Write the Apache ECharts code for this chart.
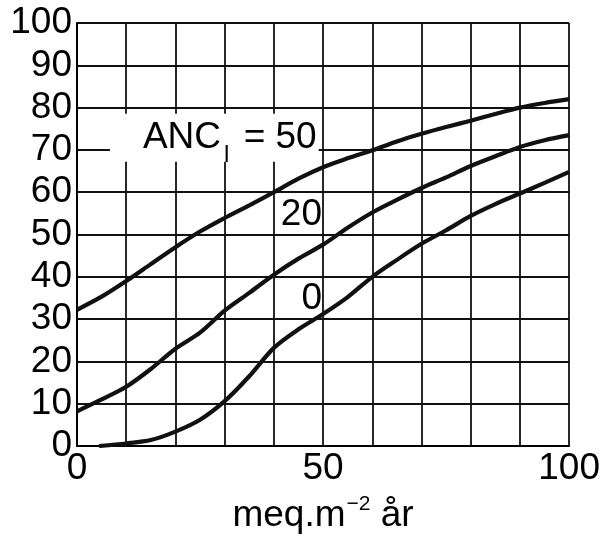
<!DOCTYPE html>
<html>
<head>
<meta charset="utf-8">
<script src="https://cdn.jsdelivr.net/npm/echarts@6/dist/echarts.min.js"></script>
<style>
html,body{margin:0;padding:0;background:#fff;}
#chart{width:603px;height:539px;}
</style>
</head>
<body>
<div id="chart"></div>
<script>
// ---- data ----
const xs = [0,5,10,15,20,25,30,35,40,45,50,55,60,65,70,75,80,85,90,95,100];
const anc50 = [32.2,35.3,39,43,47,50.7,53.9,56.9,60,63.2,65.9,68,69.9,72,73.8,75.4,76.9,78.5,80,81.1,82];
const anc20 = [8.2,11,14,18.2,23,26.8,32,36.2,40.5,44.3,47.6,51.6,55.2,58.2,61,63.5,66.2,68.5,70.7,72.3,73.5];
const anc0x = [4.5,10,15,20,25,30,35,40,45,50,55,60,65,70,75,80,85,90,95,100];
const anc0  = [0,0.6,1.4,3.4,6.2,10.6,16.5,23.2,27.6,31.2,35.2,40,44,47.8,51,54.4,57.2,59.7,62.2,64.8];
const xTickLabels = [0,50,100];
const yTickLabels = [0,10,20,30,40,50,60,70,80,90,100];
const curveNames = ['ANC 50','ANC 20','ANC 0'];

const FONT = 'Liberation Sans, Arial, Helvetica, sans-serif';
const pairs = (x, y) => x.map((v, i) => [v, y[i]]);

const lineStyle = {color:'#111', width:4.2};
function mkSeries(name, data, mp) {
  return {
    name, type:'line', data, smooth:0.3, symbol:'none', silent:true,
    lineStyle, z:3,
    markPoint: mp ? {
      silent:true, symbol:'rect', symbolSize:1,
      itemStyle:{color:'rgba(0,0,0,0)'},
      data:[mp]
    } : undefined
  };
}

const chart = echarts.init(document.getElementById('chart'), null, {renderer:'canvas'});
chart.setOption({
  animation:false,
  backgroundColor:'#fff',
  grid:{left:77, right:33.5, top:23, bottom:87, containLabel:false},
  xAxis:{
    type:'value', min:0, max:100, interval:10,
    axisLine:{show:true, lineStyle:{color:'#000', width:2}},
    axisTick:{show:false},
    splitLine:{show:true, lineStyle:{color:'#111', width:1.8}},
    axisLabel:{
      formatter:v => xTickLabels.includes(v) ? String(v) : '',
      fontSize:37, color:'#000', margin:4, fontFamily:FONT
    },
    name:'{a|meq.m}{s|\u22122}{a| år}',
    nameLocation:'middle', nameGap:48,
    nameTextStyle:{
      color:'#000', fontFamily:FONT,
      rich:{
        a:{fontSize:37, lineHeight:40, verticalAlign:'bottom', color:'#000', fontFamily:FONT},
        s:{fontSize:21, lineHeight:30, verticalAlign:'top', color:'#000', fontFamily:FONT, padding:[0,0,0,1]}
      }
    }
  },
  yAxis:{
    type:'value', min:0, max:100, interval:10,
    axisLine:{show:true, lineStyle:{color:'#000', width:2}},
    axisTick:{show:false},
    splitLine:{show:true, lineStyle:{color:'#111', width:1.8}},
    axisLabel:{
      formatter:v => yTickLabels.includes(v) ? String(v) : '',
      fontSize:37, color:'#000', margin:5, fontFamily:FONT
    }
  },
  series:[
    mkSeries(curveNames[0], pairs(xs, anc50), {
      coord:[27.9,72.9], value:'',
      label:{show:true, position:'inside',
        formatter:'{a|ANC}{s|l}{a| = 50}',
        backgroundColor:'#fff', padding:[6,2,2,33],
        rich:{
          a:{fontSize:37, lineHeight:40, verticalAlign:'top', color:'#000', fontFamily:FONT},
          s:{fontSize:24, lineHeight:24, verticalAlign:'top', color:'#000', fontFamily:FONT, padding:[24,4,0,3]}
        }
      }
    }),
    mkSeries(curveNames[1], pairs(xs, anc20), {
      coord:[45.6,54.7], value:'',
      label:{show:true, position:'inside', formatter:'20',
        fontSize:37, color:'#000', fontFamily:FONT}
    }),
    mkSeries(curveNames[2], pairs(anc0x, anc0), {
      coord:[47.7,34.7], value:'',
      label:{show:true, position:'inside', formatter:'0',
        fontSize:37, color:'#000', fontFamily:FONT}
    })
  ]
});
</script>
</body>
</html>
